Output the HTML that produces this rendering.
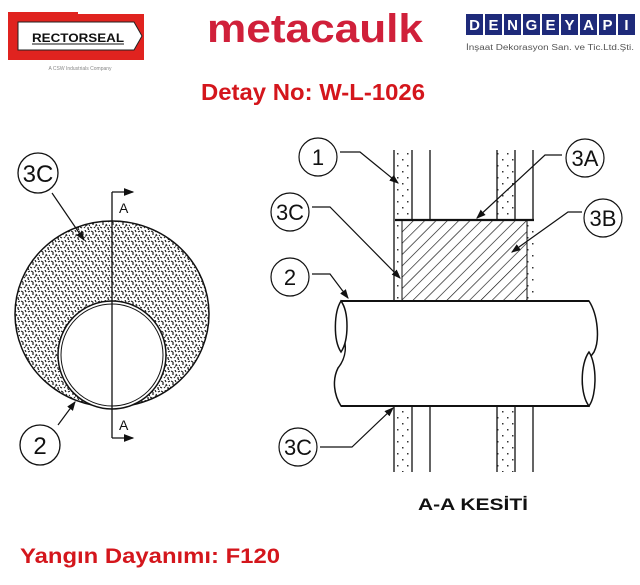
<!DOCTYPE html>
<html><head><meta charset="utf-8"><style>
html,body{margin:0;padding:0;background:#fff;}
svg{display:block;}
text{font-family:"Liberation Sans",sans-serif;}
</style></head><body>
<svg width="640" height="585" viewBox="0 0 640 585" xmlns="http://www.w3.org/2000/svg">
<defs>
<pattern id="stip" width="10" height="10" patternUnits="userSpaceOnUse">
<rect width="10" height="10" fill="#fff"/>
<path d="M1 1l2 1M5 0l1 2M8 2l2-1M2 4l2 0M6 4l1 2M9 5l1 1M0 7l2 1M4 8l1-1M7 8l2 0M3 2l0 1M5 6l1 0M8 9l1 1" stroke="#222" stroke-width="1.2"/>
</pattern>
<pattern id="dots" width="10" height="12" patternUnits="userSpaceOnUse">
<rect width="10" height="12" fill="#fff"/>
<rect x="2" y="3" width="1.5" height="1.5" fill="#333"/>
<rect x="7" y="9" width="1.5" height="1.5" fill="#333"/>
</pattern>
<pattern id="hatch" width="8" height="8" patternUnits="userSpaceOnUse" patternTransform="rotate(45)">
<rect width="8" height="8" fill="#fff"/>
<line x1="0" y1="0" x2="0" y2="8" stroke="#111" stroke-width="1.3"/>
</pattern>
<marker id="ar" markerWidth="8" markerHeight="6" refX="7" refY="3" orient="auto"><path d="M0 0L8 3L0 6z" fill="#111"/></marker>
</defs>

<!-- Rectorseal logo -->
<rect x="8" y="12" width="70" height="48" fill="#e0231f"/>
<rect x="8" y="14" width="136" height="46" fill="#e0231f"/>
<polygon points="18,22 134,22 142,36 134,50 18,50" fill="#fff" stroke="#222" stroke-width="1"/>
<text x="78" y="42" font-size="12" font-weight="bold" text-anchor="middle" fill="#111" textLength="92" lengthAdjust="spacingAndGlyphs">RECTORSEAL</text>
<line x1="32" y1="44" x2="124" y2="44" stroke="#111" stroke-width="1"/>
<text x="80" y="70" font-size="5" fill="#888" text-anchor="middle">A CSW Industrials Company</text>

<!-- metacaulk -->
<text x="315" y="42" font-size="40" font-weight="bold" fill="#d0203a" text-anchor="middle" textLength="216" lengthAdjust="spacingAndGlyphs">metacaulk</text>

<!-- DENGEYAPI -->
<g font-size="15" font-weight="bold" fill="#fff" text-anchor="middle">
<rect x="466" y="14" width="17" height="21" fill="#1e2a7a"/><text x="474.5" y="30">D</text>
<rect x="485" y="14" width="17" height="21" fill="#1e2a7a"/><text x="493.5" y="30">E</text>
<rect x="504" y="14" width="17" height="21" fill="#1e2a7a"/><text x="512.5" y="30">N</text>
<rect x="523" y="14" width="17" height="21" fill="#1e2a7a"/><text x="531.5" y="30">G</text>
<rect x="542" y="14" width="17" height="21" fill="#1e2a7a"/><text x="550.5" y="30">E</text>
<rect x="561" y="14" width="17" height="21" fill="#1e2a7a"/><text x="569.5" y="30">Y</text>
<rect x="580" y="14" width="17" height="21" fill="#1e2a7a"/><text x="588.5" y="30">A</text>
<rect x="599" y="14" width="17" height="21" fill="#1e2a7a"/><text x="607.5" y="30">P</text>
<rect x="618" y="14" width="17" height="21" fill="#1e2a7a"/><text x="626.5" y="30">I</text>
</g>
<text x="466" y="50" font-size="8" fill="#555" textLength="168" lengthAdjust="spacingAndGlyphs">İnşaat Dekorasyon San. ve Tic.Ltd.Şti.</text>

<text x="313" y="100" font-size="23" font-weight="bold" fill="#d4161c" text-anchor="middle" textLength="224" lengthAdjust="spacingAndGlyphs">Detay No: W-L-1026</text>

<!-- Left diagram -->
<ellipse cx="112" cy="314" rx="97" ry="93" fill="url(#stip)" stroke="#111" stroke-width="1.5"/>
<circle cx="112" cy="355" r="54" fill="#fff" stroke="#111" stroke-width="1.5"/>
<circle cx="112" cy="355" r="51" fill="none" stroke="#111" stroke-width="1"/>
<line x1="112" y1="192" x2="112" y2="438" stroke="#111" stroke-width="1.3"/>
<line x1="112" y1="192" x2="133" y2="192" stroke="#111" stroke-width="1.3" marker-end="url(#ar)"/>
<line x1="112" y1="438" x2="133" y2="438" stroke="#111" stroke-width="1.3" marker-end="url(#ar)"/>
<text x="119" y="213" font-size="14" fill="#111">A</text>
<text x="119" y="430" font-size="14" fill="#111">A</text>
<circle cx="38" cy="173" r="20" fill="#fff" stroke="#111" stroke-width="1.3"/>
<text x="38" y="182" font-size="24" text-anchor="middle" fill="#111">3C</text>
<line x1="52" y1="193" x2="84" y2="240" stroke="#111" stroke-width="1.2" marker-end="url(#ar)"/>
<circle cx="40" cy="445" r="20" fill="#fff" stroke="#111" stroke-width="1.3"/>
<text x="40" y="454" font-size="24" text-anchor="middle" fill="#111">2</text>
<line x1="58" y1="425" x2="75" y2="402" stroke="#111" stroke-width="1.2" marker-end="url(#ar)"/>

<!-- Right diagram: walls -->
<g stroke="#111" stroke-width="1.3">
<rect x="394" y="150" width="18" height="322" fill="url(#dots)" stroke="none"/>
<rect x="497" y="150" width="18" height="322" fill="url(#dots)" stroke="none"/>
<line x1="394" y1="150" x2="394" y2="472"/>
<line x1="412" y1="150" x2="412" y2="220"/>
<line x1="412" y1="406" x2="412" y2="472"/>
<line x1="430" y1="150" x2="430" y2="220"/>
<line x1="430" y1="406" x2="430" y2="472"/>
<line x1="497" y1="150" x2="497" y2="220"/>
<line x1="497" y1="406" x2="497" y2="472"/>
<line x1="515" y1="150" x2="515" y2="220"/>
<line x1="515" y1="406" x2="515" y2="472"/>
<line x1="533" y1="150" x2="533" y2="472"/>
</g>
<rect x="395" y="220" width="139" height="81" fill="url(#dots)"/>
<rect x="402" y="220" width="125" height="81" fill="url(#hatch)"/>
<line x1="402" y1="220" x2="402" y2="301" stroke="#111"/>
<line x1="527" y1="220" x2="527" y2="301" stroke="#111"/>
<line x1="395" y1="220" x2="534" y2="220" stroke="#111" stroke-width="2.2"/>

<!-- pipe -->
<path d="M341 301 L589 301 C598 315 600 340 594 352 C586 362 578 378 585 393 L589 406 L341 406 C334 395 332 380 338 368 C346 358 348 345 341 330 Z" fill="#fff" stroke="#111" stroke-width="1.5"/>
<path d="M341 301 C334 312 333 340 341 352 C349 340 349 312 341 301 Z" fill="#fff" stroke="#111" stroke-width="1.5"/>
<path d="M589 352 C580 364 580 395 589 406 C597 395 597 364 589 352 Z" fill="#fff" stroke="#111" stroke-width="1.5"/>
<line x1="341" y1="301" x2="589" y2="301" stroke="#111" stroke-width="2"/>
<line x1="341" y1="406" x2="589" y2="406" stroke="#111" stroke-width="2"/>

<!-- labels -->
<g stroke="#111" stroke-width="1.2" fill="none">
<circle cx="318" cy="157" r="19" fill="#fff"/>
<circle cx="585" cy="158" r="19" fill="#fff"/>
<circle cx="290" cy="212" r="19" fill="#fff"/>
<circle cx="603" cy="218" r="19" fill="#fff"/>
<circle cx="290" cy="277" r="19" fill="#fff"/>
<circle cx="298" cy="447" r="19" fill="#fff"/>
<polyline points="340,152 360,152 398,183" marker-end="url(#ar)"/>
<polyline points="562,155 545,155 477,218" marker-end="url(#ar)"/>
<polyline points="312,207 330,207 400,278" marker-end="url(#ar)"/>
<polyline points="582,212 568,212 512,252" marker-end="url(#ar)"/>
<polyline points="312,274 330,274 348,298" marker-end="url(#ar)"/>
<polyline points="320,447 352,447 393,408" marker-end="url(#ar)"/>
</g>
<g font-size="22" fill="#111" text-anchor="middle">
<text x="318" y="165">1</text>
<text x="585" y="166">3A</text>
<text x="290" y="220">3C</text>
<text x="603" y="226">3B</text>
<text x="290" y="285">2</text>
<text x="298" y="455">3C</text>
</g>
<text x="473" y="510" font-size="17" font-weight="bold" fill="#111" text-anchor="middle" textLength="110" lengthAdjust="spacingAndGlyphs">A-A KESİTİ</text>

<text x="20" y="563" font-size="21" font-weight="bold" fill="#d4161c" textLength="260" lengthAdjust="spacingAndGlyphs">Yangın Dayanımı: F120</text>
</svg>
</body></html>
